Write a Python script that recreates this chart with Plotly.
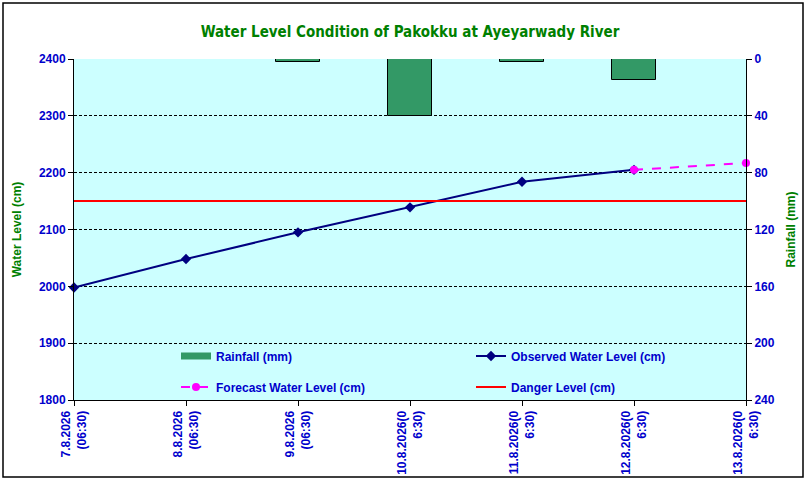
import plotly.graph_objects as go

# dates of the chart (two-line tick labels as on the original sheet)
dates = ["7.8.2026", "8.8.2026", "9.8.2026", "10.8.2026", "11.8.2026", "12.8.2026", "13.8.2026"]
tick_labels = ["7.8.2026<br>(06:30)", "8.8.2026<br>(06:30)", "9.8.2026<br>(06:30)",
               "10.8.2026(0<br>6:30)", "11.8.2026(0<br>6:30)", "12.8.2026(0<br>6:30)",
               "13.8.2026(0<br>6:30)"]
rainfall = [0, 0, 2, 40, 2, 15, 0]
observed = [1998, 2048, 2095, 2139, 2184, 2205, None]
forecast = [None, None, None, None, None, 2205, 2217]
danger = [2150, 2150, 2150, 2150, 2150, 2150, 2150]

BLUE = "#0000CC"
GREEN = "#008000"
BAR_GREEN = "#339966"
FONT = "Liberation Sans"

W, H = 807, 481
L, R, T, B = 74, 61, 59, 81
pw, ph = W - L - R, H - T - B


def main():
    pos = list(range(len(dates)))
    fig = go.Figure()

    fig.add_bar(x=pos, y=rainfall, yaxis="y2", width=0.4, name="Rainfall (mm)",
                marker=dict(color=BAR_GREEN, line=dict(color="black", width=1)),
                showlegend=False)
    # wide legend swatch for the rainfall bars, like the spreadsheet legend
    fig.add_scatter(x=[None], y=[None], mode="lines", name="Rainfall (mm)",
                    line=dict(color=BAR_GREEN, width=7), legend="legend")
    fig.add_scatter(x=pos, y=observed, mode="lines+markers", name="Observed Water Level (cm)",
                    line=dict(color="#000080", width=2), cliponaxis=False,
                    marker=dict(symbol="diamond", size=8, color="#000080"), legend="legend")
    fig.add_scatter(x=pos, y=forecast, mode="lines+markers", name="Forecast Water Level (cm)",
                    line=dict(color="#FF00FF", width=2, dash="dash"), cliponaxis=False,
                    marker=dict(symbol="circle", size=8, color="#FF00FF"), legend="legend2")
    fig.add_scatter(x=pos, y=danger, mode="lines", name="Danger Level (cm)",
                    line=dict(color="#FF0000", width=2), legend="legend2")

    tickfont = dict(family=FONT, size=12, color=BLUE, weight="bold")
    titlefont = dict(family=FONT, size=12, color=GREEN, weight="bold")
    legfont = dict(family=FONT, size=12, color=BLUE, weight="bold")

    fig.update_layout(
        width=W, height=H,
        margin=dict(l=L, r=R, t=T, b=B),
        paper_bgcolor="white",
        plot_bgcolor="#CCFFFF",
        showlegend=True,
        title=dict(text="Water Level Condition of Pakokku at Ayeyarwady River",
                   x=(L + pw / 2) / W, xanchor="center", y=1 - 32 / H, yanchor="middle",
                   font=dict(family="DejaVu Sans Condensed, DejaVu Sans", size=15,
                             color=GREEN, weight="bold")),
        xaxis=dict(range=[0, 6], tickvals=pos, ticktext=tick_labels, tickangle=-90,
                   tickfont=tickfont, ticks="outside", ticklen=5, tickcolor="black",
                   showline=True, linecolor="black", linewidth=1, showgrid=False,
                   zeroline=False, automargin=False),
        yaxis=dict(range=[1800, 2400], dtick=100, tickfont=tickfont, ticks="outside",
                   ticklen=5, tickcolor="black", showline=True, linecolor="black",
                   linewidth=1, showgrid=True, gridcolor="black", gridwidth=1,
                   griddash="3px,2px", zeroline=False, automargin=False,
                   title=dict(text="Water Level (cm)", font=titlefont, standoff=14)),
        yaxis2=dict(range=[240, 0], dtick=40, overlaying="y", side="right",
                    tickfont=tickfont, ticks="outside", ticklen=5, tickcolor="black",
                    showline=True, linecolor="black", linewidth=1, showgrid=False,
                    zeroline=False, automargin=False,
                    title=dict(text="Rainfall (mm)", font=titlefont, standoff=12)),
        legend=dict(orientation="h", x=(176 - L) / pw, xanchor="left",
                    y=(H - B - 356) / ph, yanchor="middle", entrywidth=250,
                    bgcolor="rgba(0,0,0,0)", font=legfont, traceorder="normal"),
        legend2=dict(orientation="h", x=(176 - L) / pw, xanchor="left",
                     y=(H - B - 387) / ph, yanchor="middle", entrywidth=250,
                     bgcolor="rgba(0,0,0,0)", font=legfont, traceorder="normal"),
        bargap=0,
    )

    # outer chart border
    fig.add_shape(type="rect", xref="paper", yref="paper",
                  x0=(3 - L) / pw, x1=(W - 4 - L) / pw,
                  y0=(H - B - (H - 4)) / ph, y1=(H - B - 3) / ph,
                  line=dict(color="black", width=1.5), fillcolor="rgba(0,0,0,0)", layer="below")

    fig.write_html("out.html", config={"displayModeBar": False},
                   post_script="document.body.style.margin='0';")


if __name__ == "__main__":
    main()
